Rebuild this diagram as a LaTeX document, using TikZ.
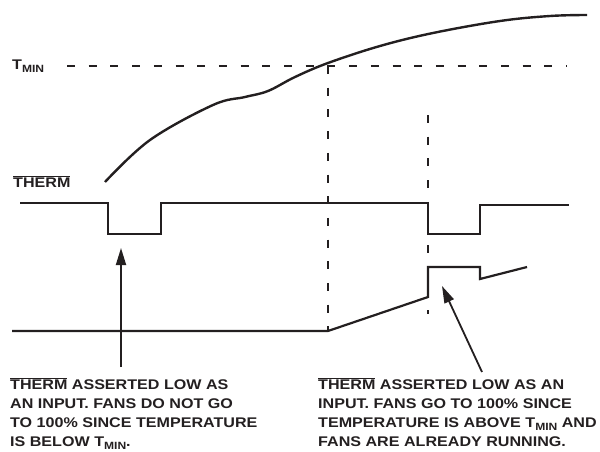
\documentclass[tikz,border=0pt]{standalone}
\usepackage{fontspec}
\setmainfont{Liberation Sans}[FakeStretch=1.15]
\usetikzlibrary{arrows.meta}
\definecolor{ink}{RGB}{35,31,32}
\newcommand{\ovl}[1]{$\overline{\mbox{#1}}$}
\newcommand{\tminsub}{T\raisebox{-3pt}{\fontsize{10.5}{10.5}\selectfont MIN}}
\begin{document}
\begin{tikzpicture}[x=1pt,y=-1pt,
  sig/.style={draw=ink,line width=2.2pt,line join=miter},
  dsh/.style={draw=ink,line width=2.6pt,dash pattern=on 8pt off 13.7pt},
  lbl/.style={inner sep=0pt,text=ink,font=\fontsize{14}{19}\selectfont\bfseries},
  note/.style={lbl,align=left,anchor=base west},
  arr/.style={draw=ink,line width=1.8pt,-{Triangle[length=17pt,width=10pt]}}]
\useasboundingbox (0,0) rectangle (600,452);
% labels
\node[lbl,anchor=base west] (tmin) at (12,70) {\tminsub};
\node[lbl,anchor=base west] (therm) at (13,187) {\ovl{THERM}};
% T_MIN threshold
\coordinate (th1) at (67,66);
\coordinate (th2) at (567,66);
\draw[dsh] (th1) -- (th2);
% vertical dashed lines
\coordinate (v1a) at (328,66);
\coordinate (v1b) at (328,331);
\draw[dsh] (v1a) -- (v1b);
\coordinate (v2a) at (428,115);
\coordinate (v2b) at (428,314);
\draw[dsh] (v2a) -- (v2b);
% temperature curve
\draw[ink,line width=2.4pt] plot[smooth,tension=0.6] coordinates
  {(105,182) (150,140) (213,105) (245,97) (268,91) (295,77) (328,63) (380,46) (433,33) (500,21) (550,16) (587,15)};
% THERM signal
\draw[sig] (20,203) -- (108,203) -- (108,234) -- (161,234) -- (161,203) -- (428,203)
  -- (428,234) -- (480,234) -- (480,205) -- (569,205);
% fan signal
\draw[sig] (12,331) -- (328,331) -- (428,297) -- (428,267) -- (480,267) -- (480,279) -- (527,267);
% notes
\node[note] (n1) at (10,446) {\ovl{THERM} ASSERTED LOW AS\\AN INPUT. FANS DO NOT GO\\TO 100\% SINCE TEMPERATURE\\IS BELOW \tminsub.};
\node[note] (n2) at (318,446) {\ovl{THERM} ASSERTED LOW AS AN\\INPUT. FANS GO TO 100\% SINCE\\TEMPERATURE IS ABOVE \tminsub{} AND\\FANS ARE ALREADY RUNNING.};
% arrows
\coordinate (a1s) at (121,367);
\coordinate (a1e) at (121,248);
\draw[arr] (a1s) -- (a1e);
\coordinate (a2s) at (482,372);
\coordinate (a2e) at (442,286);
\draw[arr] (a2s) -- (a2e);
\end{tikzpicture}
\end{document}
